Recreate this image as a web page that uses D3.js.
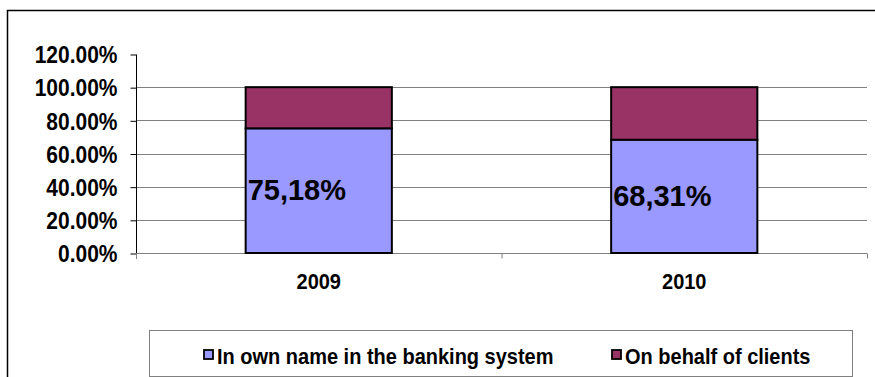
<!DOCTYPE html>
<html>
<head>
<meta charset="utf-8">
<script src="https://cdn.jsdelivr.net/npm/d3@7/dist/d3.min.js"></script>
<style>
body{margin:0;background:#fff;}
text{font-family:"Liberation Sans",Arial,sans-serif;font-weight:bold;fill:#000;}
</style>
</head>
<body>
<svg width="875" height="377"></svg>
<script>
var years = ["2009", "2010"];
var ownName = [0.7518, 0.6831];
var behalf = [0.2482, 0.3169];
var labels = ["75,18%", "68,31%"];
var yTicks = [0, 0.2, 0.4, 0.6, 0.8, 1.0, 1.2];
var seriesNames = ["In own name in the banking system", "On behalf of clients"];
var colors = ["#9999ff", "#993366"];

var stretch = "scale(1,1.12)";
var svg = d3.select("svg");

// outer chart border
svg.append("rect")
	.attr("x", 7.5).attr("y", 10.5)
	.attr("width", 900).attr("height", 400)
	.attr("fill", "none").attr("stroke", "#000").attr("stroke-width", 1.5);

var x = d3.scaleBand()
	.domain(years)
	.range([136, 867])
	.paddingInner(0.6)
	.paddingOuter(0.3);

var y = d3.scaleLinear()
	.domain([0, 1.2])
	.range([253, 54]);

// gridlines
svg.selectAll().data(yTicks.filter(function(d){ return d > 0 && d < 1.2; }))
	.enter().append("line")
	.attr("x1", 136).attr("x2", 867)
	.attr("y1", function(d){ return Math.round(y(d)) + 0.5; })
	.attr("y2", function(d){ return Math.round(y(d)) + 0.5; })
	.attr("stroke", "#808080");

// y axis
var yAxis = svg.append("g")
	.attr("transform", "translate(136.5,0.5)")
	.call(d3.axisLeft(y).tickValues(yTicks).tickSize(6).tickPadding(13)
		.tickFormat(function(d){ return (d * 100).toFixed(2) + "%"; }));
yAxis.attr("font-family", null).attr("font-size", null);
yAxis.select(".domain").attr("d", "M0," + y(1.2) + "V" + (y(0) + 5)).attr("stroke", "#000");
yAxis.selectAll(".tick line").attr("stroke", "#000");
yAxis.selectAll("text")
	.attr("font-size", 21)
	.attr("dy", "0.35em")
	.attr("transform", stretch);

// x axis
var xAxis = svg.append("g")
	.attr("transform", "translate(0," + (Math.round(y(0)) + 0.5) + ")");
xAxis.append("line")
	.attr("x1", 136).attr("x2", 867).attr("stroke", "#808080");
xAxis.selectAll().data([136, 136 + x.step(), 867])
	.enter().append("line")
	.attr("x1", function(d){ return d + 0.5; }).attr("x2", function(d){ return d + 0.5; })
	.attr("y1", 0).attr("y2", 5).attr("stroke", "#808080");
xAxis.selectAll().data(years)
	.enter().append("text")
	.attr("transform", function(d){ return "translate(" + (x(d) + x.bandwidth() / 2) + ",35) " + stretch; })
	.attr("text-anchor", "middle")
	.attr("font-size", 20)
	.text(function(d){ return d; });

// stacked bars
var bars = svg.selectAll().data(years)
	.enter().append("g");

bars.append("rect")
	.attr("x", function(d){ return x(d); })
	.attr("width", x.bandwidth())
	.attr("y", function(d, i){ return y(ownName[i]); })
	.attr("height", function(d, i){ return y(0) - y(ownName[i]); })
	.attr("fill", colors[0]).attr("stroke", "#000").attr("stroke-width", 2);

bars.append("rect")
	.attr("x", function(d){ return x(d); })
	.attr("width", x.bandwidth())
	.attr("y", function(d, i){ return y(ownName[i] + behalf[i]); })
	.attr("height", function(d, i){ return y(ownName[i]) - y(ownName[i] + behalf[i]); })
	.attr("fill", colors[1]).attr("stroke", "#000").attr("stroke-width", 2);

bars.append("text")
	.attr("transform", function(d, i){
		return "translate(" + (x(d) + 2) + "," + ((y(0) + y(ownName[i])) / 2 - 1) + ") scale(1,1.04)";
	})
	.attr("dy", "0.35em")
	.attr("font-size", 29)
	.text(function(d, i){ return labels[i]; });

// legend
var legend = svg.append("g");
legend.append("rect")
	.attr("x", 149.5).attr("y", 330.5)
	.attr("width", 703).attr("height", 46)
	.attr("fill", "#fff").attr("stroke", "#808080");

var items = legend.selectAll().data(seriesNames)
	.enter().append("g")
	.attr("transform", function(d, i){ return "translate(" + [203, 611][i] + ",349)"; });
items.append("rect")
	.attr("x", 1).attr("y", 1).attr("width", 9).attr("height", 9)
	.attr("fill", function(d, i){ return colors[i]; })
	.attr("stroke", "#000").attr("stroke-width", 1.8);
items.append("text")
	.attr("transform", "translate(14,15) " + stretch)
	.attr("font-size", 20)
	.text(function(d){ return d; });
</script>
</body>
</html>
